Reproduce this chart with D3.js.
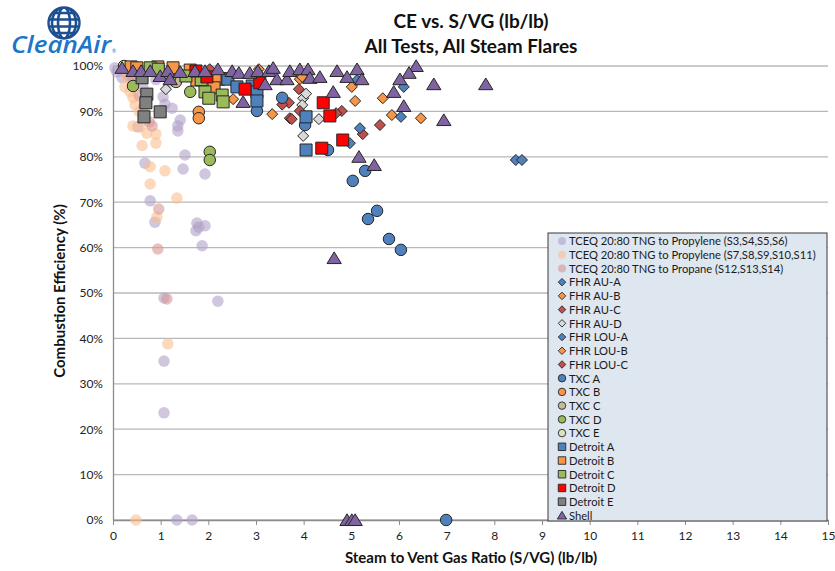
<!DOCTYPE html>
<html><head><meta charset="utf-8">
<script src="https://cdn.jsdelivr.net/npm/d3@7"></script>
<style>
body{margin:0;background:#fff;}
svg{display:block;font-family:Lato,"Open Sans",sans-serif;}
</style></head>
<body><svg id="c" width="835" height="571"></svg>
<script>
// ---------- DATA ----------
const xTicks = [0,1,2,3,4,5,6,7,8,9,10,11,12,13,14,15];
const yTicks = [0,10,20,30,40,50,60,70,80,90,100];

const tceqPropyleneA = [[0.04,99.6],[0.08,98.7],[0.19,97.4],[0.38,96.9],[0.63,95.2],[1.05,93.2],[1.09,91.6],[1.24,90.7],[1.41,88.1],[1.36,86.8],[1.36,85.7],[0.52,86.6],[1.51,80.4],[0.67,78.6],[1.47,77.3],[1.93,76.2],[0.78,70.3],[0.88,65.6],[1.76,65.4],[1.80,64.5],[1.93,64.8],[1.74,63.7],[1.87,60.4],[1.07,48.9],[2.20,48.2],[1.07,35.0],[1.07,23.6],[1.34,0],[1.66,0],[0.30,98.0],[0.90,97.0],[1.20,96.5]];
const tceqPropyleneB = [[0.25,95.4],[0.36,94.3],[0.42,93.0],[0.46,91.4],[0.42,86.8],[0.57,86.6],[0.71,85.2],[0.90,85.0],[0.61,82.5],[0.90,83.0],[0.78,77.8],[1.09,76.9],[0.78,74.0],[1.34,70.9],[0.92,66.7],[1.15,38.8],[0.48,0],[0.30,97.5],[0.55,90.0]];
const tceqPropane = [[0.42,96.9],[0.76,87.7],[0.82,86.8],[0.96,68.5],[0.94,59.7],[1.13,48.7],[0.65,91.0],[0.55,93.5]];
const fhrAuA = [[8.45,79.3],[8.58,79.3],[4.97,83.0]];
const fhrAuB = [[5.66,92.9],[5.85,89.2],[6.46,88.5],[5.08,92.3]];
const fhrAuC = [[5.60,87.0],[5.24,85.0],[4.80,90.1],[4.68,89.6]];
const fhrAuD = [[1.11,94.9],[3.99,92.9],[3.97,91.4],[4.32,88.3],[3.99,84.6],[4.05,93.9]];
const fhrLouA = [[5.12,96.9],[6.10,95.4],[6.04,88.8],[5.18,86.3]];
const fhrLouB = [[5.01,95.4],[3.92,97.1],[3.97,97.6],[3.06,99.3],[3.34,89.4],[2.52,92.7]];
const fhrLouC = [[3.69,91.9],[3.71,88.5],[3.90,94.9],[3.92,90.1],[3.75,88.3],[2.03,99.3],[3.55,91.5]];
const txcA = [[3.55,93.0],[3.02,90.1],[4.03,87.0],[4.51,81.5],[5.03,74.7],[5.29,76.9],[5.54,68.1],[5.35,66.3],[5.79,61.9],[6.04,59.5],[6.99,0],[2.35,97.3]];
const txcB = [[1.80,89.9],[1.80,88.5],[2.30,97.0]];
const txcC = [[1.32,96.5]];
const txcD = [[2.03,81.1],[2.03,79.3],[0.42,95.6],[1.62,94.3],[1.20,97.5]];
const txcE = [[0.23,100.0]];
const detroitA = [[2.41,97.1],[2.60,95.4],[2.92,95.6],[3.02,94.3],[3.02,92.3],[4.05,88.8],[4.05,81.5]];
const detroitB = [[0.38,99.8],[0.50,99.6],[0.94,99.8],[1.26,99.6],[1.62,99.1],[2.14,97.1],[2.12,95.2],[1.76,96.9]];
const detroitC = [[0.78,99.6],[0.95,99.3],[1.53,97.8],[1.93,94.3],[2.01,92.9],[2.29,93.6],[2.31,92.1],[1.85,97.0]];
const detroitD = [[1.74,98.9],[1.97,97.6],[2.77,94.9],[3.08,96.3],[4.41,91.9],[4.55,89.0],[4.38,81.9],[4.82,83.7]];
const detroitE = [[0.61,97.4],[0.71,93.8],[0.69,91.9],[0.65,88.8],[0.99,89.9]];
const shell = [[0.19,99.6],[0.42,98.9],[0.59,98.9],[0.78,98.9],[0.99,97.8],[1.15,98.9],[1.20,97.1],[1.41,98.7],[1.72,98.9],[1.93,98.9],[2.20,99.3],[2.50,98.9],[2.64,98.5],[2.87,98.5],[3.04,98.9],[3.27,98.9],[3.36,99.6],[3.44,97.1],[3.65,97.1],[3.71,98.9],[3.92,99.3],[4.09,99.3],[4.13,97.4],[4.34,97.6],[4.70,98.9],[4.91,97.6],[5.12,99.3],[5.22,97.1],[4.62,94.3],[6.36,100.0],[6.21,98.5],[6.02,97.1],[5.89,94.3],[6.10,91.2],[6.73,96.0],[7.82,96.0],[6.94,88.1],[5.16,80.0],[5.48,78.2],[4.64,57.7],[2.73,92.1],[3.19,96.0],[4.91,0],[5.01,0],[5.08,0]];

const seriesNames = ["TCEQ 20:80 TNG to Propylene (S3,S4,S5,S6)","TCEQ 20:80 TNG to Propylene (S7,S8,S9,S10,S11)","TCEQ 20:80 TNG to Propane (S12,S13,S14)","FHR AU-A","FHR AU-B","FHR AU-C","FHR AU-D","FHR LOU-A","FHR LOU-B","FHR LOU-C","TXC A","TXC B","TXC C","TXC D","TXC E","Detroit A","Detroit B","Detroit C","Detroit D","Detroit E","Shell"];
const seriesData = [tceqPropyleneA,tceqPropyleneB,tceqPropane,fhrAuA,fhrAuB,fhrAuC,fhrAuD,fhrLouA,fhrLouB,fhrLouC,txcA,txcB,txcC,txcD,txcE,detroitA,detroitB,detroitC,detroitD,detroitE,shell];
const seriesShape = ["fade","fade","fade","diamond","diamond","diamond","diamond","diamond","diamond","diamond","circle","circle","circle","circle","circle","square","square","square","square","square","triangle"];
const seriesColor = ["#B1A0C7","#FAC090","#D99694","#4F81BD","#F79646","#C0504D","#D9D9D9","#4F81BD","#F79646","#C0504D","#4F81BD","#F79646","#C4BD97","#9BBB59","#D7E4BD","#4F81BD","#F79646","#9BBB59","#FF0000","#808080","#8064A2"];

// ---------- CHART ----------
const svg = d3.select("#c");
const M = {l:113, r:828, t:66, b:520};
const x = d3.scaleLinear().domain([0,15]).range([M.l,M.r]);
const y = d3.scaleLinear().domain([0,100]).range([M.b,M.t]);

// logo
const logo = svg.append("g");
const gc = {cx:64, cy:23, r:15.5};
logo.append("clipPath").attr("id","gclip").append("circle").attr("cx",gc.cx).attr("cy",gc.cy).attr("r",gc.r);
const gl = logo.append("g").attr("clip-path","url(#gclip)").attr("stroke","#1d4f91").attr("fill","none").attr("stroke-width",2.6);
[-10,-3.5,3.5,10].forEach(d=>gl.append("line").attr("x1",gc.cx-gc.r).attr("x2",gc.cx+gc.r).attr("y1",gc.cy+d).attr("y2",gc.cy+d));
[0,6,12].forEach(d=>gl.append("ellipse").attr("cx",gc.cx).attr("cy",gc.cy).attr("rx",d).attr("ry",gc.r));
logo.append("circle").attr("cx",gc.cx).attr("cy",gc.cy).attr("r",gc.r).attr("fill","none").attr("stroke","#1d4f91").attr("stroke-width",2.4);
logo.append("text").attr("x",11).attr("y",53).attr("font-family","Open Sans").attr("font-weight",600).attr("font-style","italic")
  .attr("font-size",24).attr("fill","#1b75c9").attr("textLength",100).attr("lengthAdjust","spacingAndGlyphs").text("CleanAir");
logo.append("text").attr("x",112).attr("y",53).attr("font-size",5).attr("fill","#1b75c9").text("®");

// title
svg.append("text").attr("x",471).attr("y",28).attr("text-anchor","middle").attr("font-weight",700).attr("font-size",19).attr("fill","#111").text("CE vs. S/VG (lb/lb)");
svg.append("text").attr("x",471).attr("y",53).attr("text-anchor","middle").attr("font-weight",700).attr("font-size",19).attr("fill","#111").text("All Tests, All Steam Flares");

// gridlines
svg.append("g").selectAll("line").data(yTicks).join("line")
  .attr("x1",M.l).attr("x2",M.r).attr("y1",d=>y(d)).attr("y2",d=>y(d)).attr("stroke","#b8b8b8").attr("stroke-width",1.3);

// y axis
const ya = svg.append("g").attr("transform",`translate(${M.l},0)`)
  .call(d3.axisLeft(y).tickValues(yTicks).tickSize(0).tickPadding(10).tickFormat(d=>d+"%"));
ya.select(".domain").attr("stroke","#8c8c8c").attr("stroke-width",1.3);
ya.selectAll("text").attr("font-size",12).attr("font-family","Lato").attr("fill","#222");

// x axis
const xa = svg.append("g").attr("transform",`translate(0,${M.b})`)
  .call(d3.axisBottom(x).tickValues(xTicks).tickSize(5).tickSizeOuter(0).tickPadding(6));
xa.select(".domain").attr("stroke","#8c8c8c").attr("stroke-width",1.3);
xa.selectAll(".tick line").attr("stroke","#8c8c8c");
xa.selectAll("text").attr("font-size",12).attr("font-family","Lato").attr("fill","#222");

// axis titles
svg.append("text").attr("x",471).attr("y",563).attr("text-anchor","middle").attr("font-weight",700).attr("font-size",15).attr("fill","#111").text("Steam to Vent Gas Ratio (S/VG) (lb/lb)");
svg.append("text").attr("transform","translate(65,291) rotate(-90)").attr("text-anchor","middle").attr("font-weight",700).attr("font-size",15).attr("fill","#111").text("Combustion Efficiency (%)");

// shapes
function shapePath(shape, s){
  const h = s/2;
  if(shape==="square") return `M${-h},${-h}H${h}V${h}H${-h}Z`;
  if(shape==="diamond") return `M0,${-h}L${h},0L0,${h}L${-h},0Z`;
  if(shape==="triangle") return `M0,${-h*0.95}L${h*1.1},${h*0.85}L${-h*1.1},${h*0.85}Z`;
  return d3.symbol(d3.symbolCircle, Math.PI*h*h)();
}
const sizeMap = {fade:11.5, circle:11.5, square:12, diamond:11, triangle:13};

const plot = svg.append("g");
seriesData.forEach((data,i)=>{
  const shape = seriesShape[i];
  const g = plot.append("g");
  g.selectAll("path").data(data).join("path")
    .attr("transform",d=>`translate(${x(d[0])},${y(d[1])})`)
    .attr("d",shapePath(shape,sizeMap[shape]))
    .attr("fill",seriesColor[i])
    .attr("fill-opacity",shape==="fade"?0.6:1)
    .attr("stroke",shape==="fade"?"none":"#262626")
    .attr("stroke-width",1);
});

// legend
const L = {x:548, y:233, w:279, h:288};
const lg = svg.append("g");
lg.append("rect").attr("x",L.x).attr("y",L.y).attr("width",L.w).attr("height",L.h).attr("fill","#DEE6EF").attr("stroke","#3a3a3a").attr("stroke-width",1);
const row = lg.selectAll("g.row").data(seriesNames).join("g").attr("class","row")
  .attr("transform",(d,i)=>`translate(${L.x+14},${241+i*13.72})`);
row.append("path").attr("d",(d,i)=>shapePath(seriesShape[i],seriesShape[i]==="fade"?8:(seriesShape[i]==="triangle"?8.5:7.5)))
  .attr("fill",(d,i)=>seriesColor[i]).attr("fill-opacity",(d,i)=>seriesShape[i]==="fade"?0.6:1)
  .attr("stroke",(d,i)=>seriesShape[i]==="fade"?"none":"#262626").attr("stroke-width",0.9);
row.append("text").attr("x",7).attr("y",4.3).attr("font-size",11.2).attr("font-family","Lato").attr("fill","#1a1a1a").text(d=>d);
</script></body></html>
